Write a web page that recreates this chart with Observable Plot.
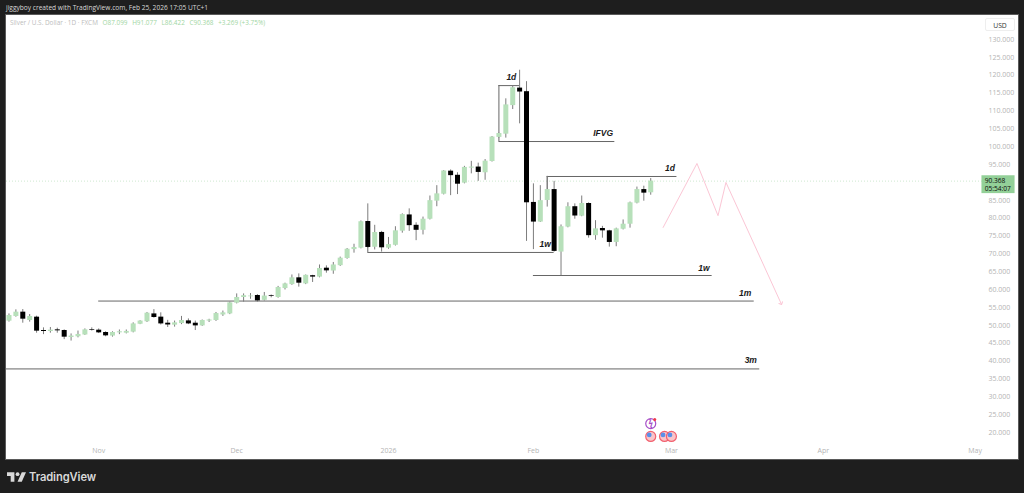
<!DOCTYPE html>
<html>
<head>
<meta charset="utf-8">
<script src="https://cdn.jsdelivr.net/npm/d3@7"></script>
<script src="https://cdn.jsdelivr.net/npm/@observablehq/plot@0.6"></script>
<style>
html,body{margin:0;padding:0;background:#1e1e1e;width:1024px;height:493px;overflow:hidden;font-family:"Open Sans",sans-serif}
#head{position:absolute;left:6px;top:2px;font-size:6.6px;line-height:11px;color:#d8d8d8;white-space:nowrap}
#pane{position:absolute;left:6px;top:15px;width:1012px;height:444px;background:#fff;box-shadow:0 0 0 1px #5a5a5a}
#pane svg{display:block;background:transparent}
#legend{position:absolute;left:4px;top:3px;font-size:6.4px;line-height:10px;white-space:nowrap;color:#bcbcbc}
#legend b{font-weight:400;color:#9fd6a3;margin-left:3px}
#usd{position:absolute;left:979px;top:3px;width:30px;height:13px;line-height:13px;text-align:center;font-size:6.8px;color:#333;border:1px solid #eee;border-radius:2px;background:#fff;box-sizing:border-box}
#foot{position:absolute;left:7px;top:469px;height:16px;display:flex;align-items:center;gap:3px;color:#d9d9d9;font-family:Inter,"Open Sans",sans-serif;font-weight:600;font-size:11.2px;letter-spacing:-.1px}
</style>
</head>
<body>
<div id="head">jiggyboy created with TradingView.com, Feb 25, 2026 17:05 UTC+1</div>
<div id="pane">
  <div id="chart"></div>
  <div id="legend">Silver / U.S. Dollar · 1D · FXCM <b>O87.099</b> <b>H91.077</b> <b>L86.422</b> <b>C90.368</b> <b>+3.269 (+3.75%)</b></div>
  <div id="usd">USD</div>
</div>
<div id="foot"><svg width="19" height="10" viewBox="0 0 36 18"><path fill="#d9d9d9" d="M14 18H7V7H0V0h14v18zM28 18h-8L28 0h8l-8 18z"/><circle cx="20" cy="3.6" r="3.6" fill="#d9d9d9"/></svg><span>TradingView</span></div>
<script>
const opens = [51.17,52.47,53.69,51.35,52.29,48.56,48.27,48.74,48.56,46.6,46.8,47.3,48.84,48.65,48,47,47.9,47.8,48.1,50.3,51,53.2,52.3,50.6,50.05,50.5,51.25,50.6,49.85,51.2,51.35,52.9,53.2,56.2,57.8,58,58.35,57,58.3,57.8,60.3,61.4,63.3,61.6,63.9,63.5,66,65.2,66.7,68.7,71.2,71.6,79.06,71.85,76,71.6,72.4,76.35,80.9,78,76.6,79.7,84.75,86.7,93.15,92,89.8,94,94.3,92.7,95.85,102.6,103.5,111.5,116.4,115.4,84.4,78.9,84.95,88,70.5,77.5,83.2,80.55,84.1,75.1,77.1,76.45,73.2,76.9,78.3,84.2,88,87.099];
const highs = [53.2,54.34,54.43,53.03,52.57,49.3,49.4,49.2,48.74,47.6,48.4,49,49.3,49,48.2,48.2,48.7,48.7,50.7,51.3,53.6,54.4,53.5,51.4,51.2,52.5,51.8,51.2,51.5,51.7,53.6,54,56.5,58.8,58.8,58.9,58.6,59.2,58.5,60.9,61.8,64.1,64.4,64.1,64,66.9,66.65,67.6,69.1,71.5,72.7,79.2,84,78,76.3,74.6,77.6,81.2,82.6,78.7,80.3,86.2,89.1,93.3,93.5,92.7,94.5,95.9,95.4,96.4,102.85,103.8,113.4,117,121.4,118.2,89.6,89.1,91.7,90.3,78.1,84.3,84,86.2,84.3,79.3,77.7,76.6,77.2,79.5,84.5,88.7,88.95,91.077];
const lows = [50.9,52.29,50.6,50.9,47.8,47.4,47.8,47.8,46,45.6,46.5,47.2,48.4,47.7,46.8,46.7,47.4,47.6,47.9,50.2,50.8,52,50.1,49.4,49.5,50.2,50.2,48.55,49.7,50.8,51.1,52.5,53,56,56.5,57.3,56.5,56.8,57.7,57.6,59.9,61.2,60.7,61.4,62,63.3,64.6,64.3,66.5,68.5,70.2,71.4,71.5,71.1,70.5,71.3,72.2,75.8,76.3,73.7,75.3,79.5,83.2,86.5,86.3,86.6,89.6,92.4,90.3,90.6,95.7,102.4,102.4,110.4,106.4,73.5,71.2,78.8,83.1,70.5,63.9,77.3,79.7,80.4,74.4,73.8,74.4,71.9,72,76.7,77.2,84,84.75,86.422];
const closes = [52.75,53.69,51.73,52.47,48.37,48.27,48.65,48.46,46.69,47,47.45,48.74,48.65,47.9,47.06,48,48.2,48.3,50.4,51.2,53.4,52.2,50.4,50.1,50.7,51.35,50.4,49.85,51.35,51.5,53.3,53.5,56.3,57.8,58.3,58.2,56.85,58.2,58.1,60.6,61.6,63.3,61.8,64,63.5,65.9,65.25,66.9,68.8,71.3,71.8,79,71.8,75.98,71.7,72.6,76.45,81,77.9,76.6,79.7,84.9,86.8,93.2,91.9,89.5,94.2,94.3,92.8,95.95,102.7,103.7,111.7,116.5,115.3,84.3,78.9,84.9,88,70.7,77.6,83.2,80.6,84.1,75.1,77,76.45,73.2,77,78.3,84.3,88,87,90.368];

const monthIndex = [13,33,55,76,96,118,140];
const monthNames = ["Nov","Dec","2026","Feb","Mar","Apr","May"];
const priceTicks = [20,25,30,35,40,45,50,55,60,65,70,75,80,85,95,100,105,110,115,120,125,130];

const levelFrom = [-0.36,13,76,52,71,71,78];
const levelTo   = [108.8,108,101.9,79,74,87.8,96.8];
const levelAt   = [37.8,56.8,63.95,70.4,117.1,101.45,91.66];

const stemAt   = [71,78,52];
const stemLow  = [101.45,88,70.4];
const stemHigh = [117.1,91.66,71.8];

const noteX = [72.8,86.1,95.8,77.7,100.7,106.7,107.5];
const noteY = [119.4,103.7,93.9,72.6,65.9,58.9,40.2];
const noteText = ["1d","IFVG","1d","1w","1w","1m","3m"];

const pathX = [94.8,99.7,102.75,103.9,111.9];
const pathY = [77.4,95.3,80.7,90,56.1];

const lastClose = 90.368;
const countdown = "05:54:07";
const flagX = [93,95,96];
const flagY = 18.9;
const boltY = 22.5;

const green = "#b7e0ba", black = "#000000", wick = "#7d7d7d", line = "#666666";
const bars = opens.map((o,i)=>({i,o,h:highs[i],l:lows[i],c:closes[i]}));
const levels = levelAt.map((v,k)=>({v,a:levelFrom[k],b:levelTo[k]}));
const stems = stemAt.map((x,k)=>({x,a:stemLow[k],b:stemHigh[k]}));
const notes = noteText.map((t,k)=>({t,x:noteX[k],y:noteY[k]}));
const path = pathX.map((x,k)=>({x,y:pathY[k]}));

const chart = Plot.plot({
  width:1012, height:444,
  marginLeft:0, marginRight:34, marginTop:0, marginBottom:19,
  style:{background:"transparent",overflow:"visible"},
  x:{domain:[-0.36,141.37],axis:null},
  y:{domain:[136.72,17.77].reverse(),axis:null},
  marks:[
    Plot.ruleY([lastClose],{stroke:"#cfe8d0",strokeDasharray:"1,2",strokeWidth:1}),
    Plot.ruleY(levels,{y:"v",x1:"a",x2:"b",stroke:line,strokeWidth:1}),
    Plot.ruleX(stems,{x:"x",y1:"a",y2:"b",stroke:line,strokeWidth:1}),
    Plot.ruleX(bars,{x:"i",y1:"l",y2:"h",stroke:wick,strokeWidth:1}),
    Plot.ruleX(bars,{x:"i",y1:"o",y2:"c",strokeWidth:5,stroke:d=>d.c>=d.o?green:black}),
    Plot.line(path,{x:"x",y:"y",stroke:"#fbc6d5",strokeWidth:1,markerEnd:"arrow"}),
    Plot.text(notes,{x:"x",y:"y",text:"t",fontStyle:"italic",fontWeight:700,fontSize:8.5,fill:"#1a1a1a",fontFamily:"Liberation Sans"}),
    Plot.dot(flagX,{x:d=>d,y:()=>flagY,r:5,fill:"#f9c4c9",stroke:"#f2606e",strokeWidth:1.2}),
    Plot.dot(flagX,{x:d=>d,y:()=>flagY,r:2.4,dx:-1.5,dy:-1.5,fill:"#5b8fe8"}),
    Plot.dot([flagX[0]],{x:d=>d,y:()=>boltY,r:5,fill:"#fff",stroke:"#a64fc8",strokeWidth:1.2}),
    Plot.text([flagX[0]],{x:d=>d,y:()=>boltY,text:()=>"ϟ",fontSize:8,fontWeight:700,fill:"#a64fc8"}),
    Plot.dot([flagX[0]],{x:d=>d,y:()=>boltY,r:1.5,dx:4,dy:-4,fill:"#f23645"}),
    Plot.rect([lastClose],{x1:()=>141,x2:()=>145.8,y1:d=>d+1.5,y2:d=>d-3.5,fill:"#93d098"}),
    Plot.text([lastClose],{x:()=>141.4,y:d=>d-1,text:d=>d.toFixed(3)+"\n"+countdown,textAnchor:"start",lineHeight:1.2,fontSize:6.6,fill:"#0a0a0a",fontFamily:"Open Sans"}),
    Plot.axisY({anchor:"right",ticks:priceTicks,tickSize:0,tickPadding:4,tickFormat:d=>d.toFixed(3),fontSize:7,fill:"#b4b4b4",fontFamily:"Open Sans",label:null}),
    Plot.axisX({anchor:"bottom",ticks:monthIndex,tickSize:0,tickPadding:8,tickFormat:d=>monthNames[monthIndex.indexOf(d)],fontSize:7,fill:"#b4b4b4",fontFamily:"Open Sans",label:null})
  ]
});
document.getElementById("chart").appendChild(chart);
</script>
</body>
</html>
